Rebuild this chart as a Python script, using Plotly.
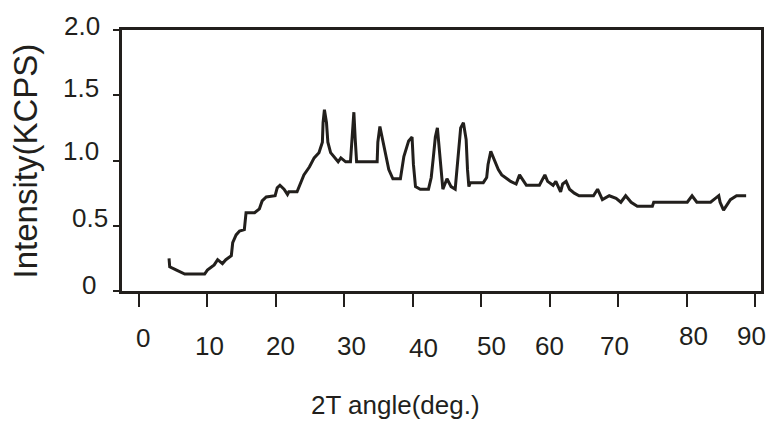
import plotly.graph_objects as go

# XRD scan: diffraction angle 2T (deg) vs intensity (KCPS)
angle = [4.4, 4.5, 5.5, 6.7, 9.6, 10.0, 11.0, 11.5, 12.2, 12.7, 13.5, 13.7, 14.2, 14.7,
         15.4, 15.65, 16.9, 17.6, 18.0, 18.6, 19.9, 20.2, 20.6, 21.2, 21.7, 21.9, 23.1,
         23.6, 24.1, 24.9, 25.6, 26.3, 26.8, 26.9, 27.1, 27.4, 27.6, 28.0, 28.7, 29.1,
         29.5, 30.2, 30.9, 31.1, 31.4, 31.6, 31.8, 34.8, 34.9, 35.2, 35.5, 36.0, 36.5,
         37.1, 38.2, 38.7, 39.4, 39.9, 40.1, 40.4, 41.1, 42.3, 42.7, 43.0, 43.3, 43.6,
         43.8, 44.2, 44.4, 45.0, 45.6, 46.2, 46.4, 46.8, 47.0, 47.4, 47.8, 48.0, 48.2,
         48.4, 50.3, 50.8, 51.0, 51.4, 51.7, 52.1, 52.5, 53.0, 53.7, 54.3, 55.1, 55.6,
         56.1, 56.6, 58.5, 59.3, 59.7, 60.5, 60.9, 61.6, 61.9, 62.4, 62.9, 63.6, 64.3,
         66.4, 67.0, 67.7, 68.7, 69.7, 70.4, 71.1, 71.9, 72.8, 75.0, 75.2, 80.1, 80.8,
         81.5, 83.5, 84.2, 84.7, 84.9, 85.4, 86.4, 87.3, 88.7]
intensity = [0.25, 0.185, 0.16, 0.13, 0.13, 0.16, 0.20, 0.24, 0.21, 0.24, 0.27, 0.37, 0.43, 0.46,
             0.47, 0.60, 0.60, 0.63, 0.69, 0.72, 0.73, 0.79, 0.81, 0.78, 0.74, 0.76, 0.76,
             0.82, 0.89, 0.95, 1.02, 1.06, 1.14, 1.29, 1.39, 1.29, 1.14, 1.06, 1.02, 0.99,
             1.02, 0.99, 0.99, 1.18, 1.37, 1.16, 0.99, 0.99, 1.14, 1.26, 1.18, 1.05, 0.93,
             0.86, 0.86, 1.03, 1.15, 1.18, 0.97, 0.80, 0.78, 0.78, 0.87, 1.02, 1.18, 1.25,
             1.14, 0.91, 0.78, 0.86, 0.80, 0.78, 0.91, 1.11, 1.25, 1.29, 1.16, 0.93, 0.80,
             0.83, 0.83, 0.87, 0.97, 1.07, 1.03, 0.99, 0.93, 0.89, 0.86, 0.84, 0.82, 0.89,
             0.85, 0.81, 0.81, 0.89, 0.84, 0.81, 0.84, 0.76, 0.82, 0.84, 0.78, 0.75, 0.73,
             0.73, 0.78, 0.70, 0.73, 0.71, 0.68, 0.73, 0.68, 0.65, 0.65, 0.68, 0.68, 0.73,
             0.68, 0.68, 0.71, 0.73, 0.68, 0.62, 0.70, 0.73, 0.73]

x_ticks = [0, 10, 20, 30, 40, 50, 60, 70, 80, 90]
x_tick_labels = ["0", "10", "20", "30", "40", "50", "60", "70", "80", "90"]
y_ticks = [0, 0.5, 1.0, 1.5, 2.0]
y_tick_labels = ["0", "0.5", "1.0", "1.5", "2.0"]

# hand-set label nudges (pixels) for the uneven label placement
x_label_dx = [4, 2, 5, 7, 11, 10, 0, -4, 7, -4]
x_label_dy = [-47, -55, -55, -55, -57, -55, -55, -55, -45, -45]
y_label_dx = [-33, -32, -41, -41, -40]
y_label_dy = [6, 8, 10, 7, 4]

INK = "#221f1c"
TICK_FONT = dict(family="Liberation Sans, Arial, sans-serif", size=26, color=INK)

fig = go.Figure()
fig.add_trace(go.Scatter(x=angle, y=intensity, mode="lines",
                         line=dict(color=INK, width=3), hoverinfo="skip"))

annotations = []
for v, t, dx, dy in zip(x_ticks, x_tick_labels, x_label_dx, x_label_dy):
    annotations.append(dict(x=v, xref="x", y=0, yref="paper", text=t, showarrow=False,
                            xanchor="center", yanchor="middle", xshift=dx, yshift=dy,
                            font=TICK_FONT))
for v, t, dx, dy in zip(y_ticks, y_tick_labels, y_label_dx, y_label_dy):
    annotations.append(dict(x=0, xref="paper", y=v, yref="y", text=t, showarrow=False,
                            xanchor="center", yanchor="middle", xshift=dx, yshift=dy,
                            font=TICK_FONT))
# axis titles
annotations.append(dict(x=0, xref="paper", y=0.5, yref="paper", text="Intensity(KCPS)",
                        showarrow=False, textangle=-90, xanchor="center", yanchor="middle",
                        xshift=-97, yshift=-1,
                        font=dict(family="Liberation Sans, Arial, sans-serif", size=33, color=INK)))
annotations.append(dict(x=0.5, xref="paper", y=0, yref="paper", text="2T angle(deg.)",
                        showarrow=False, xanchor="center", yanchor="middle",
                        xshift=-46, yshift=-114,
                        font=dict(family="Liberation Sans, Arial, sans-serif", size=26, color=INK)))

fig.update_layout(
    width=769, height=423,
    margin=dict(l=122, r=5, t=30, b=132),
    paper_bgcolor="white", plot_bgcolor="white",
    showlegend=False,
    annotations=annotations,
    xaxis=dict(range=[-2.47, 90.87], tickvals=x_ticks, showticklabels=False,
               showline=True, linecolor=INK, linewidth=3, mirror=True,
               ticks="outside", ticklen=13, tickwidth=2, tickcolor=INK,
               showgrid=False, zeroline=False),
    yaxis=dict(range=[0, 2.0], tickvals=y_ticks, showticklabels=False,
               showline=True, linecolor=INK, linewidth=3, mirror=True,
               ticks="outside", ticklen=6, tickwidth=2, tickcolor=INK,
               showgrid=False, zeroline=False),
)

fig.write_html("out.html")
